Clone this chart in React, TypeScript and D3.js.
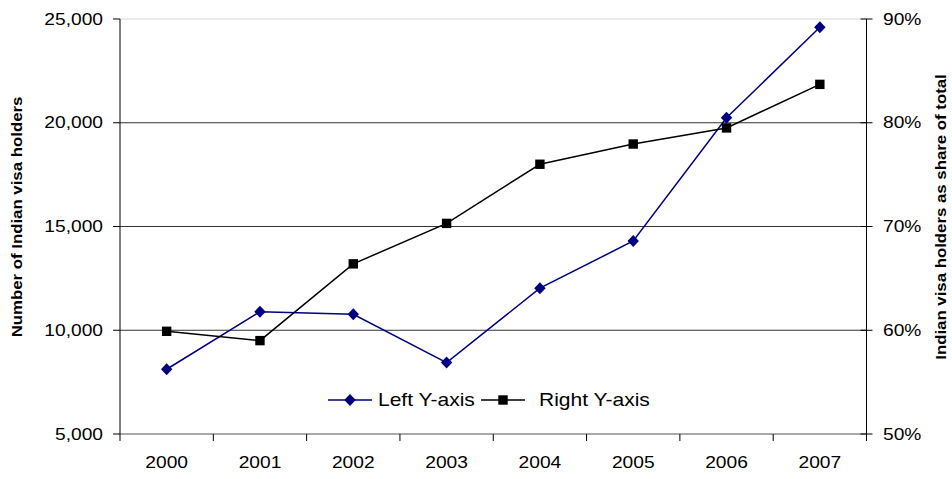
import React from "react";
import * as d3 from "d3";

// Indian visa holders, 2000–2007
const years = ["2000", "2001", "2002", "2003", "2004", "2005", "2006", "2007"];
const holders = [8120, 10890, 10770, 8440, 12030, 14300, 20240, 24600];
const sharePct = [59.9, 59.0, 66.4, 70.3, 76.0, 77.95, 79.5, 83.7];
const leftTicks = [5000, 10000, 15000, 20000, 25000];
const rightTicks = [50, 60, 70, 80, 90];
const seriesNames = ["Left Y-axis", "Right Y-axis"];

const W = 952;
const H = 479;
const M = { left: 120, right: 866.5, top: 19, bottom: 434 };
const SX = 1.2;
const FONT = "'Liberation Sans', Arial, sans-serif";
const BLUE = "#000080";

function Txt(props: {
  x: number;
  y: number;
  anchor?: string;
  size?: number;
  weight?: string | number;
  rotate?: number;
  children: React.ReactNode;
}) {
  const { x, y, anchor = "start", size = 16, weight = "normal", rotate } = props;
  return (
    <g transform={`translate(${x},${y})${rotate ? ` rotate(${rotate})` : ""}`}>
      <text
        transform={`scale(${SX},1)`}
        textAnchor={anchor}
        fontSize={size}
        fontWeight={weight}
        fontFamily={FONT}
        fill="#000"
      >
        {props.children}
      </text>
    </g>
  );
}

const diamond = (cx: number, cy: number, r = 6) =>
  `M${cx},${cy - r}L${cx + r * 0.95},${cy}L${cx},${cy + r}L${cx - r * 0.95},${cy}Z`;

export default function App() {
  const x = d3.scaleBand<string>().domain(years).range([M.left, M.right]);
  const yL = d3.scaleLinear().domain([5000, 25000]).range([M.bottom, M.top]);
  const yR = d3.scaleLinear().domain([50, 90]).range([M.bottom, M.top]);
  const cx = (yr: string) => (x(yr) as number) + x.bandwidth() / 2;
  const fmt = d3.format(",");

  const blueLine = d3
    .line<number>()
    .x((_, i) => cx(years[i]))
    .y((d) => yL(d))(holders) as string;
  const blackLine = d3
    .line<number>()
    .x((_, i) => cx(years[i]))
    .y((d) => yR(d))(sharePct) as string;

  const boundaries = [...years.map((yr) => x(yr) as number), M.right];
  const legendY = 400;

  return (
    <svg
      width={W}
      height={H}
      style={{ position: "absolute", left: 0, top: 0, background: "#fff" }}
    >
      <rect width={W} height={H} fill="#fff" />

      {/* gridlines */}
      {leftTicks
        .filter((t) => t > 5000)
        .map((t) => (
          <line
            key={t}
            x1={M.left}
            x2={M.right}
            y1={yL(t)}
            y2={yL(t)}
            stroke={t === 25000 ? "#d8d8d8" : "#333"}
            strokeWidth={1}
          />
        ))}

      {/* x axis */}
      <line x1={M.left} x2={M.right} y1={M.bottom} y2={M.bottom} stroke="#555" />
      {boundaries.map((b, i) => (
        <line key={i} x1={b} x2={b} y1={M.bottom} y2={M.bottom + 7} stroke="#000" />
      ))}
      {years.map((yr) => (
        <Txt key={yr} x={cx(yr)} y={468} anchor="middle">
          {yr}
        </Txt>
      ))}

      {/* left axis */}
      <line x1={M.left} x2={M.left} y1={M.top} y2={M.bottom} stroke="#000" />
      {leftTicks.map((t) => (
        <g key={t}>
          <line x1={M.left - 7} x2={M.left} y1={yL(t)} y2={yL(t)} stroke="#000" />
          <Txt x={103} y={yL(t) + 5.5} anchor="end">
            {fmt(t)}
          </Txt>
        </g>
      ))}
      <Txt x={22} y={217} anchor="middle" size={14} weight="bold" rotate={-90}>
        Number of Indian visa holders
      </Txt>

      {/* right axis */}
      <line x1={M.right} x2={M.right} y1={M.top} y2={M.bottom + 7} stroke="#000" />
      {rightTicks.map((t) => (
        <g key={t}>
          <line x1={M.right - 6} x2={M.right + 6} y1={yR(t)} y2={yR(t)} stroke="#000" />
          <Txt x={883} y={yR(t) + 5.5} anchor="start">
            {`${t}%`}
          </Txt>
        </g>
      ))}
      <Txt x={946} y={217} anchor="middle" size={14} weight="bold" rotate={-90}>
        Indian visa holders as share of total
      </Txt>

      {/* series: holders (left axis) */}
      <path d={blueLine} fill="none" stroke={BLUE} strokeWidth={1.5} />
      {holders.map((v, i) => (
        <path key={i} d={diamond(cx(years[i]), yL(v))} fill={BLUE} />
      ))}

      {/* series: share of total (right axis) */}
      <path d={blackLine} fill="none" stroke="#000" strokeWidth={1.5} />
      {sharePct.map((v, i) => (
        <rect
          key={i}
          x={cx(years[i]) - 4.7}
          y={yR(v) - 4.7}
          width={9.4}
          height={9.4}
          fill="#000"
        />
      ))}

      {/* legend */}
      <line x1={328} x2={372} y1={legendY} y2={legendY} stroke={BLUE} strokeWidth={1.5} />
      <path d={diamond(350, legendY)} fill={BLUE} />
      <Txt x={378} y={legendY + 6} size={17.5}>
        {seriesNames[0]}
      </Txt>
      <line x1={481} x2={525} y1={legendY} y2={legendY} stroke="#000" strokeWidth={1.5} />
      <rect x={503 - 4.7} y={legendY - 4.7} width={9.4} height={9.4} fill="#000" />
      <Txt x={539} y={legendY + 6} size={17.5}>
        {seriesNames[1]}
      </Txt>
    </svg>
  );
}
